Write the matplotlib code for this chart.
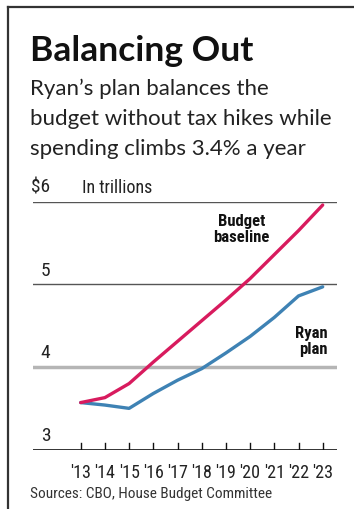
import numpy as np
import matplotlib
matplotlib.use('Agg')
import matplotlib.pyplot as plt
from matplotlib import font_manager
from matplotlib.lines import Line2D

# Data (trillions of dollars)
years = [2013, 2014, 2015, 2016, 2017, 2018, 2019, 2020, 2021, 2022, 2023]
year_labels = ["'13", "'14", "'15", "'16", "'17", "'18", "'19", "'20", "'21", "'22", "'23"]
baseline = [3.57, 3.63, 3.80, 4.06, 4.31, 4.56, 4.81, 5.07, 5.36, 5.65, 5.96]
ryan = [3.57, 3.54, 3.50, 3.68, 3.84, 3.98, 4.17, 4.37, 4.60, 4.86, 4.97]
y_ticks = [3, 4, 5, 6]
y_tick_labels = ['3', '4', '5', '$6']

# pick a narrow face for the chart labels if one is around
fonts = font_manager.fontManager.ttflist
names = {f.name for f in fonts}
narrow, stretch = 'Roboto', 'normal'
for cand in ['Roboto Condensed', 'Liberation Sans Narrow', 'Open Sans Condensed', 'Noto Sans Condensed']:
    if cand in names:
        narrow = cand
        break
else:
    if any(f.name == 'DejaVu Sans' and f.stretch == 'condensed' for f in fonts):
        narrow, stretch = 'DejaVu Sans', 'condensed'
head = 'Lato' if 'Lato' in names else 'DejaVu Sans'
nf = dict(family=narrow, fontstretch=stretch)

W, H = 354, 510
fig = plt.figure(figsize=(W / 100, H / 100), dpi=100)
fig.patch.set_facecolor('white')

def fx(x):
    return x / W

def fy(y):
    return 1 - y / H

# frame lines (top and left)
fig.add_artist(Line2D([fx(8), fx(354)], [fy(8), fy(8)], color='#333333', lw=1.6))
fig.add_artist(Line2D([fx(8), fx(8)], [fy(8), fy(510)], color='#333333', lw=1.6))

# title and subtitle
fig.text(fx(30), fy(61), 'Balancing Out', fontsize=25.5, fontweight='bold',
         family=head, color='#111111', va='baseline')
subtitle = ["Ryan\u2019s plan balances the",
            "budget without tax hikes while",
            "spending climbs 3.4% a year"]
for i, line in enumerate(subtitle):
    fig.text(fx(30), fy(95 + 30 * i), line, fontsize=16, family=head,
             color='#222222', va='baseline')

# axes placed in pixel space
left, right, top, bottom = 33, 337, 202.7, 450.7
ax = fig.add_axes([fx(left), fy(bottom), fx(right - left), (bottom - top) / H])
ax.set_xlim(2013 - (80.7 - left) / 24.2, 2023 + (right - 322.7) / 24.2)
ax.set_ylim(3, 6)
ax.axis('off')

ax.axhline(6, color='#555555', lw=1.0)
ax.axhline(5, color='#555555', lw=1.0)
ax.axhline(4, color='#b5b5b5', lw=2.5)
ax.axhline(3, color='#111111', lw=1.2)

ax.plot(years, ryan, color='#3e82b4', lw=2.4, solid_capstyle='round', clip_on=False)
ax.plot(years, baseline, color='#d81b5e', lw=2.4, solid_capstyle='round', clip_on=False)

# ticks pointing up from the baseline
for yr, lab in zip(years, year_labels):
    ax.plot([yr, yr], [3, 3.08], color='#111111', lw=1.0)
    ax.text(yr, 2.73, lab, ha='center', va='center', fontsize=13,
            color='#222222', **nf)

for v, lab in zip(y_ticks, y_tick_labels):
    ax.text(2011.75, v + 0.07, lab, ha='right', va='bottom', fontsize=14,
            color='#222222', **nf)
ax.text(2013.05, 6.07, 'In trillions', ha='left', va='bottom', fontsize=13,
        color='#222222', **nf)

ax.text(2019.65, 5.68, 'Budget\nbaseline', ha='center', va='center', fontsize=12,
        fontweight='bold', color='#111111', linespacing=1.1, **nf)
ax.text(2023.2, 4.32, 'Ryan\nplan', ha='right', va='center', fontsize=12,
        fontweight='bold', color='#111111', linespacing=1.1, **nf)

fig.text(fx(30), fy(498), 'Sources: CBO, House Budget Committee', fontsize=11,
         color='#333333', va='baseline', **nf)

fig.savefig('out.png', dpi=100)
